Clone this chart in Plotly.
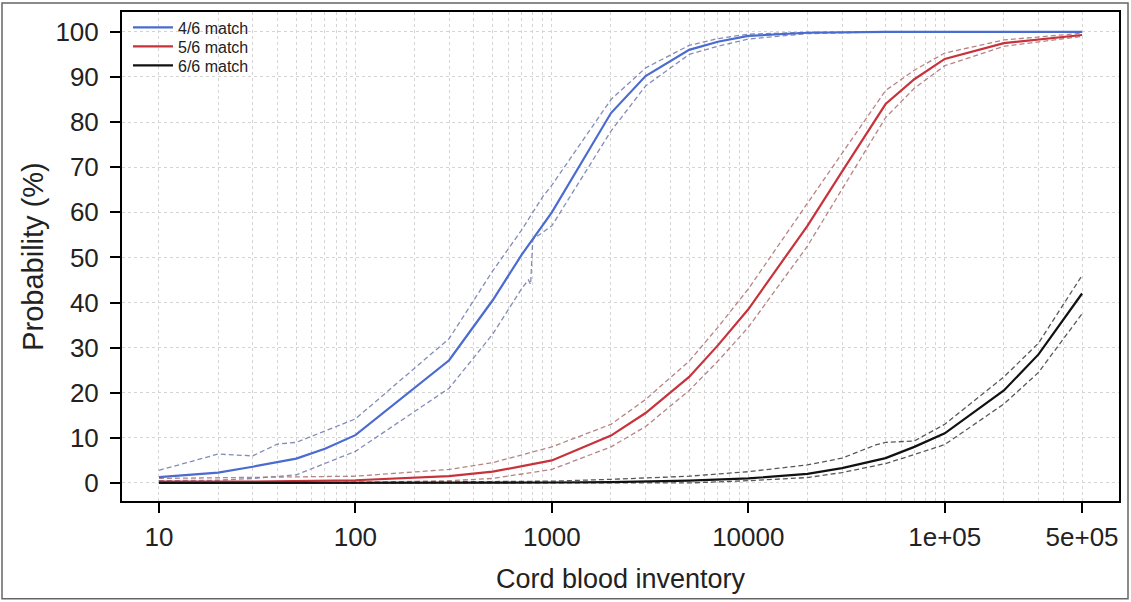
import plotly.graph_objects as go

# ---- data ----
x46 = [10, 20, 30, 50, 70, 100, 300, 500, 700, 1000, 2000, 3000, 5000, 7000, 10000, 20000, 50000, 100000, 500000]
y46 = [1.3, 2.3, 3.6, 5.4, 7.6, 10.6, 27.2, 40.5, 50.5, 60, 82, 90.2, 96.0, 97.8, 99.1, 99.8, 100, 100, 100]
x46_up = [10, 20, 30, 40, 50, 100, 300, 500, 700, 900, 1000, 2000, 3000, 5000, 7000, 10000, 20000, 50000, 500000]
y46_up = [2.8, 6.4, 6.0, 8.6, 9.0, 14.2, 32, 47, 56, 63.5, 66, 85, 92, 97, 98.5, 99.5, 99.9, 100, 100]
x46_lo = [10, 20, 30, 50, 100, 300, 500, 700, 760, 780, 800, 1000, 2000, 3000, 5000, 7000, 10000, 20000, 50000, 500000]
y46_lo = [0.5, 0.6, 1.0, 1.8, 7, 21, 33, 43, 45, 44, 54, 57, 78, 88, 95, 96.8, 98.4, 99.6, 100, 100]

x56 = [10, 30, 100, 300, 500, 1000, 2000, 3000, 5000, 7000, 10000, 20000, 30000, 50000, 70000, 100000, 200000, 500000]
y56 = [0.3, 0.3, 0.6, 1.5, 2.5, 5, 10.5, 15.5, 23.5, 30.5, 38.5, 57, 69, 84, 89.5, 94, 97.5, 99.3]
x56_up = [10, 30, 100, 300, 500, 1000, 2000, 3000, 5000, 7000, 10000, 20000, 30000, 50000, 70000, 100000, 200000, 500000]
y56_up = [1.0, 1.2, 1.5, 3.0, 4.5, 8, 13, 18.5, 27, 34.5, 43, 62, 73, 87, 91.5, 95.3, 98.2, 99.7]
x56_lo = [10, 30, 100, 300, 500, 1000, 2000, 3000, 5000, 7000, 10000, 20000, 30000, 50000, 70000, 100000, 200000, 500000]
y56_lo = [0.0, 0.0, 0.1, 0.5, 1.0, 3, 8, 12.5, 20.5, 27, 34.5, 52.5, 65, 81, 87.5, 92.5, 96.8, 99]

x66 = [10, 100, 1000, 2000, 5000, 10000, 20000, 30000, 50000, 70000, 100000, 200000, 300000, 500000]
y66 = [0, 0, 0.1, 0.2, 0.5, 1.0, 2.0, 3.3, 5.5, 8.0, 11, 20.5, 28.5, 42]
x66_up = [10, 100, 1000, 2000, 5000, 10000, 20000, 30000, 45000, 50000, 70000, 100000, 200000, 300000, 500000]
y66_up = [0, 0.1, 0.4, 0.8, 1.5, 2.5, 4.0, 5.5, 8.5, 9.0, 9.3, 13, 23.5, 31, 46]
x66_lo = [10, 100, 1000, 5000, 10000, 20000, 30000, 50000, 70000, 100000, 200000, 300000, 500000]
y66_lo = [0, 0, 0, 0, 0.5, 1.2, 2.3, 4.3, 6.3, 8.5, 17.5, 24.5, 37.5]

x_tickvals = [10, 100, 1000, 10000, 100000, 500000]
x_ticktext = ["10", "100", "1000", "10000", "1e+05", "5e+05"]
y_tickvals = [0, 10, 20, 30, 40, 50, 60, 70, 80, 90, 100]
series_names = ["4/6 match", "5/6 match", "6/6 match"]

# ---- styling ----
c_blue = "#4a6bcf"
c_red = "#c8323a"
c_black = "#111111"
ci_blue = "rgba(110,120,170,0.85)"
ci_red = "rgba(170,110,110,0.85)"
ci_black = "rgba(70,70,70,0.9)"
DASH = "5px,3px"

fig = go.Figure()

def ci(x, y, col):
    fig.add_trace(go.Scatter(x=x, y=y, mode="lines", showlegend=False, hoverinfo="skip",
                             line=dict(color=col, width=1.3, dash=DASH)))

ci(x46_up, y46_up, ci_blue); ci(x46_lo, y46_lo, ci_blue)
ci(x56_up, y56_up, ci_red); ci(x56_lo, y56_lo, ci_red)
ci(x66_up, y66_up, ci_black); ci(x66_lo, y66_lo, ci_black)

fig.add_trace(go.Scatter(x=x46, y=y46, mode="lines", name=series_names[0], legend="legend",
                         line=dict(color=c_blue, width=2.2)))
fig.add_trace(go.Scatter(x=x56, y=y56, mode="lines", name=series_names[1], legend="legend2",
                         line=dict(color=c_red, width=2.2)))
fig.add_trace(go.Scatter(x=x66, y=y66, mode="lines", name=series_names[2], legend="legend3",
                         line=dict(color=c_black, width=2.2)))

minor_vals = []
for k in range(1, 6):
    for m in range(1, 10):
        v = m * 10 ** k
        if v <= 500000:
            minor_vals.append(v)

W, H = 1131, 602
L, R, T, B = 122, 12, 11, 101
pw, ph = W - L - R, H - T - B

def py(pix):  # pixel row -> paper y
    return (H - B - pix) / ph

def px(pix):
    return (pix - L) / pw

leg_common = dict(xanchor="left", yanchor="middle", bgcolor="rgba(0,0,0,0)",
                  font=dict(size=16, color="#222"), itemwidth=40)

fig.update_layout(
    width=W, height=H,
    margin=dict(l=L, r=R, t=T, b=B),
    paper_bgcolor="white", plot_bgcolor="white",
    font=dict(family="Liberation Sans, Arial, sans-serif", color="#222"),
    showlegend=True,
    legend=dict(x=px(128), y=py(27.5), **leg_common),
    legend2=dict(x=px(128), y=py(46.5), **leg_common),
    legend3=dict(x=px(128), y=py(65.5), **leg_common),
    xaxis=dict(type="log", range=[0.812, 5.887],
               tickvals=x_tickvals, ticktext=x_ticktext,
               ticks="outside", ticklen=10, tickwidth=2, tickcolor="black",
               tickfont=dict(size=26, color="#222"), ticklabelstandoff=2,
               showline=True, linewidth=2, linecolor="black", mirror=True,
               showgrid=True, gridcolor="#d4d4d4", griddash="dot", gridwidth=1,
               minor=dict(tickvals=minor_vals, showgrid=True, gridcolor="#d4d4d4", griddash="dot", ticks=""),
               zeroline=False,
               title=dict(text="Cord blood inventory", standoff=18,
                          font=dict(size=27, color="#222"))),
    yaxis=dict(range=[-4, 104.4], tickvals=y_tickvals,
               ticks="outside", ticklen=10, tickwidth=2, tickcolor="black",
               tickfont=dict(size=26, color="#222"), ticklabelstandoff=6,
               showline=True, linewidth=2, linecolor="black", mirror=True,
               showgrid=True, gridcolor="#d4d4d4", griddash="dot", gridwidth=1,
               zeroline=False,
               title=dict(text="Probability (%)", standoff=3, font=dict(size=29, color="#222"))),
)

# outer image frame
fig.add_shape(type="rect", xref="paper", yref="paper",
              x0=px(2), x1=px(1128), y0=py(599), y1=py(2),
              line=dict(color="#666", width=1.5), fillcolor="rgba(0,0,0,0)", layer="above")

fig.write_html("out.html", config={"displayModeBar": False},
               post_script="document.body.style.margin='0';")
